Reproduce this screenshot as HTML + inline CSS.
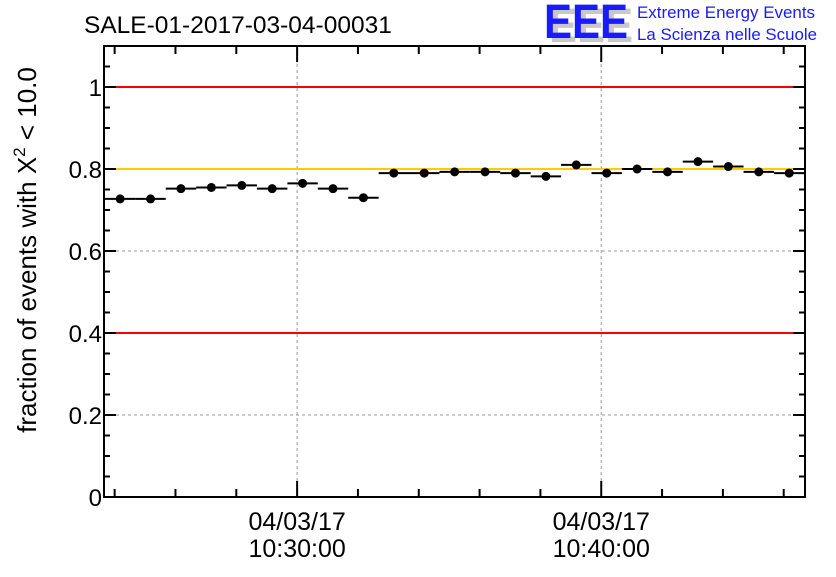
<!DOCTYPE html>
<html><head><meta charset="utf-8"><style>
body{margin:0;background:#fff;width:836px;height:572px;overflow:hidden}
svg text{font-family:"Liberation Sans",sans-serif}
</style></head><body>
<svg id="chart" width="836" height="572" xmlns="http://www.w3.org/2000/svg">
<text x="84" y="33" font-size="24.5">SALE-01-2017-03-04-00031</text>
<g>
<text x="549" y="42" font-size="48" font-weight="bold" fill="#c8c8c8" textLength="84" lengthAdjust="spacingAndGlyphs">EEE</text>
<text x="544" y="38" font-size="48" font-weight="bold" fill="#1a1aff" textLength="84" lengthAdjust="spacingAndGlyphs">EEE</text>
<text x="637" y="18" font-size="17" fill="#1a1aff" textLength="178" lengthAdjust="spacingAndGlyphs">Extreme Energy Events</text>
<text x="637" y="40" font-size="17" fill="#1a1aff" textLength="180" lengthAdjust="spacingAndGlyphs">La Scienza nelle Scuole</text>
</g>
<g id="grid"></g>
<g id="refs"></g>
<g id="marks"></g>
<g id="axes"></g>
<text transform="translate(36,250) rotate(-90)" text-anchor="middle" font-size="26">fraction of events with X<tspan font-size="17" dy="-11">2</tspan><tspan dy="11"> &lt; 10.0</tspan></text>
</svg>
<script>
const values=[0.727,0.727,0.752,0.755,0.760,0.752,0.765,0.752,0.730,0.790,0.790,0.793,0.793,0.790,0.782,0.810,0.790,0.800,0.793,0.818,0.806,0.793,0.790];
const yTicks=[0,0.2,0.4,0.6,0.8,1];
const yTickLabels=["0","0.2","0.4","0.6","0.8","1"];
const xMajorMinutes=[30,40];
const xMajorLabels=[["04/03/17","10:30:00"],["04/03/17","10:40:00"]];
const refLevels=[1.0,0.8,0.4];
const refColors=["#ff0000","#ffcc00","#ff0000"];
const L=104,R=805,T=46,B=497,yMax=1.1;
const xStart=23.65,xEnd=46.7;
const firstPoint=24.18;
function X(m){return L+(m-xStart)/(xEnd-xStart)*(R-L);}
function Y(v){return B-v/yMax*(B-T);}
const NS="http://www.w3.org/2000/svg";
function mk(tag,attrs,parent){const e=document.createElementNS(NS,tag);for(const k in attrs)e.setAttribute(k,attrs[k]);parent.appendChild(e);return e;}
const grid=document.getElementById('grid'),refs=document.getElementById('refs'),marks=document.getElementById('marks'),axes=document.getElementById('axes');
yTicks.forEach(v=>{if(v>0&&v<1){const l=mk('line',{x1:L,x2:R,y1:Y(v),y2:Y(v),stroke:'#999','stroke-dasharray':'3,3'},grid);

}});
xMajorMinutes.forEach(m=>{const l=mk('line',{x1:X(m),x2:X(m),y1:T,y2:B,stroke:'#999','stroke-dasharray':'3,3'},grid);

});
refLevels.forEach((v,i)=>{const l=mk('line',{x1:L,x2:R,y1:Y(v),y2:Y(v),stroke:refColors[i],'stroke-width':2},refs);

});
values.forEach((v,i)=>{const m=firstPoint+i;const g=mk('g',{},marks);


mk('line',{x1:X(m-0.5),x2:X(m+0.5),y1:Y(v),y2:Y(v),stroke:'#000','stroke-width':2},g);
mk('circle',{cx:X(m),cy:Y(v),r:4.5,fill:'#000'},g);});
const fr=mk('rect',{x:L,y:T,width:R-L,height:B-T,fill:'none',stroke:'#000','stroke-width':2},axes);


for(let k=0;k<=22;k++){const v=k*0.05;const major=k%4===0;const len=major?12:6;
mk('line',{x1:L,x2:L+len,y1:Y(v),y2:Y(v),stroke:'#000','stroke-width':2},axes);
mk('line',{x1:R,x2:R-len,y1:Y(v),y2:Y(v),stroke:'#000','stroke-width':2},axes);}
yTicks.forEach((v,i)=>{const t=mk('text',{x:L-2,y:Y(v)+9,'text-anchor':'end','font-size':24},axes);t.textContent=yTickLabels[i];

});
for(let m=24;m<=46;m+=2){const major=m%10===0;const len=major?16:8;
mk('line',{x1:X(m),x2:X(m),y1:B,y2:B-len,stroke:'#000','stroke-width':2},axes);
mk('line',{x1:X(m),x2:X(m),y1:T,y2:T+len,stroke:'#000','stroke-width':2},axes);}
xMajorMinutes.forEach((m,i)=>{xMajorLabels[i].forEach((s,j)=>{const t=mk('text',{x:X(m),y:530+j*27,'text-anchor':'middle','font-size':25},axes);t.textContent=s;

});});
</script>
</body></html>
